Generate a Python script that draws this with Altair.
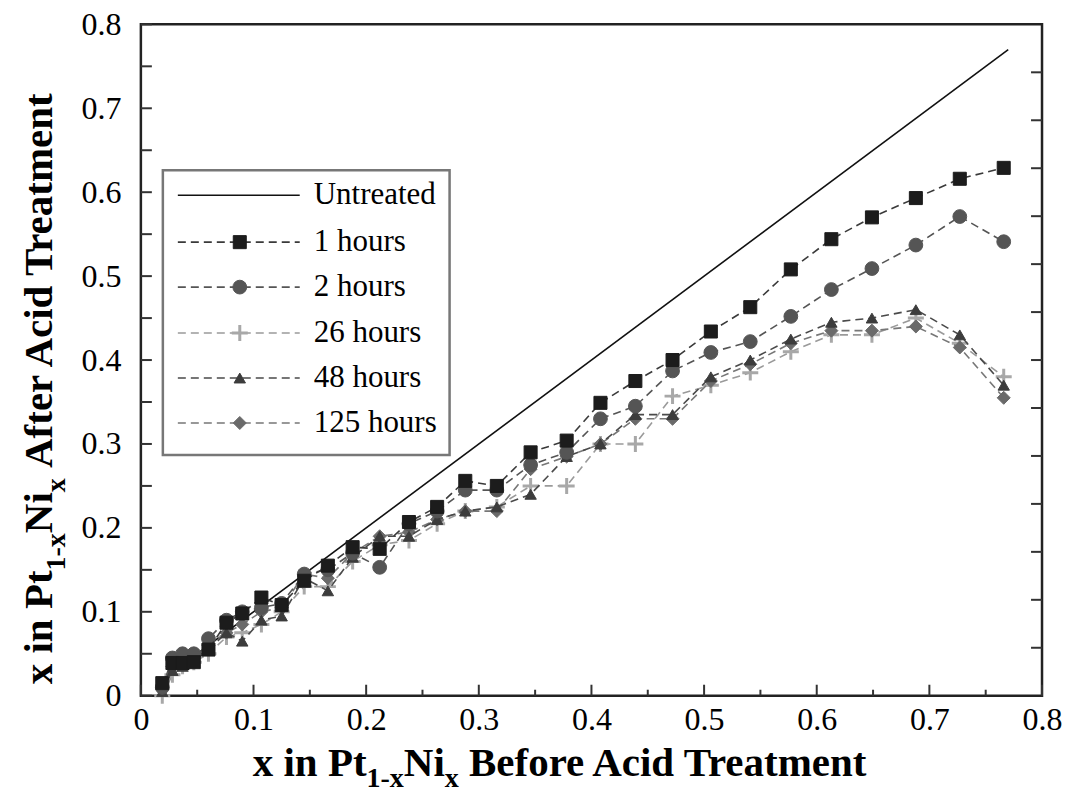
import altair as alt
import pandas as pd

# ---------------- data ----------------
x_before = [0.019, 0.028, 0.037, 0.047, 0.060, 0.076, 0.090, 0.107, 0.125, 0.145,
            0.166, 0.188, 0.212, 0.238, 0.263, 0.288, 0.316, 0.346, 0.378, 0.408,
            0.439, 0.472, 0.506, 0.541, 0.577, 0.613, 0.649, 0.688, 0.727, 0.766]

y_1h = [0.015, 0.039, 0.039, 0.040, 0.055, 0.087, 0.098, 0.117, 0.108, 0.137,
        0.155, 0.177, 0.175, 0.207, 0.225, 0.256, 0.250, 0.290, 0.304, 0.349,
        0.375, 0.400, 0.434, 0.463, 0.508, 0.544, 0.570, 0.593, 0.616, 0.629]

y_2h = [0.010, 0.045, 0.050, 0.050, 0.068, 0.090, 0.100, 0.105, 0.110, 0.145,
        0.150, 0.170, 0.153, 0.205, 0.220, 0.245, 0.245, 0.275, 0.290, 0.330,
        0.345, 0.387, 0.409, 0.422, 0.452, 0.484, 0.509, 0.537, 0.571, 0.541]

y_26h = [0.000, 0.025, 0.035, 0.040, 0.050, 0.070, 0.075, 0.085, 0.100, 0.130,
         0.130, 0.160, 0.180, 0.185, 0.205, 0.220, 0.225, 0.250, 0.250, 0.300,
         0.300, 0.357, 0.370, 0.385, 0.410, 0.430, 0.430, 0.450, 0.420, 0.380]

y_48h = [0.005, 0.030, 0.035, 0.045, 0.055, 0.075, 0.065, 0.090, 0.095, 0.140,
         0.125, 0.165, 0.190, 0.190, 0.210, 0.220, 0.225, 0.240, 0.285, 0.300,
         0.335, 0.335, 0.380, 0.400, 0.425, 0.445, 0.450, 0.460, 0.430, 0.370]

y_125h = [0.010, 0.035, 0.040, 0.045, 0.060, 0.075, 0.085, 0.100, 0.105, 0.145,
          0.140, 0.170, 0.190, 0.195, 0.210, 0.220, 0.220, 0.270, 0.285, 0.300,
          0.330, 0.330, 0.375, 0.395, 0.420, 0.435, 0.435, 0.440, 0.415, 0.355]

untreated_x = [0.017, 0.770]
untreated_y = [0.017, 0.770]

series_names = ["1 hours", "2 hours", "26 hours", "48 hours", "125 hours"]
series_values = [y_1h, y_2h, y_26h, y_48h, y_125h]

x_major = [0, 0.1, 0.2, 0.3, 0.4, 0.5, 0.6, 0.7, 0.8]
x_minor = [0.05, 0.15, 0.25, 0.35, 0.45, 0.55, 0.65, 0.75]
y_major = [0, 0.1, 0.2, 0.3, 0.4, 0.5, 0.6, 0.7, 0.8]
y_minor = [0.05, 0.15, 0.25, 0.35, 0.45, 0.55, 0.65, 0.75]
y_right = [k * 0.8 / 14 for k in range(1, 14)]

# axis titles, split into normal / subscript pieces
x_title_parts = [("x in Pt", False), ("1-x", True), ("Ni", False), ("x", True),
                 (" Before Acid Treatment", False)]
y_title_parts = [("x in Pt", False), ("1-x", True), ("Ni", False), ("x", True),
                 (" After Acid Treatment", False)]

# ---------------- styles ----------------
PLUS = "M-1,0L1,0M0,-1L0,1"
styles = {
    "1 hours":   dict(color="#1c1c1c", line="#3a3a3a", shape="square", size=170, filled=True, sw=1),
    "2 hours":   dict(color="#555555", line="#555555", shape="circle", size=190, filled=True, sw=1),
    "26 hours":  dict(color="#a8a8a8", line="#9a9a9a", shape=PLUS, size=256, filled=False, sw=3),
    "48 hours":  dict(color="#3c3c3c", line="#4a4a4a", shape="triangle-up", size=130, filled=True, sw=1),
    "125 hours": dict(color="#6a6a6a", line="#777777", shape="diamond", size=170, filled=True, sw=1),
}
draw_order = ["26 hours", "125 hours", "48 hours", "2 hours", "1 hours"]

W, H = 902, 672
FONT = "Liberation Serif"
MAIN_FS, SUB_FS = 41, 28

# Times/Liberation Serif Bold advance widths (per 1000 em) for title text
BOLD_W = {" ": 250, "x": 500, "i": 278, "n": 556, "P": 611, "t": 333, "1": 500, "-": 333,
          "N": 722, "B": 667, "e": 444, "f": 333, "o": 500, "r": 444, "A": 722, "c": 444,
          "d": 556, "T": 667, "a": 500, "m": 833}

def text_width(s, fs):
    return sum(BOLD_W.get(ch, 500) for ch in s) * fs / 1000.0

xscale = alt.Scale(domain=[0, 0.8], nice=False)
yscale = alt.Scale(domain=[0, 0.8], nice=False)

xaxis = alt.Axis(values=x_major, format="~g", ticks=False, domain=False, grid=False,
                 labelFont=FONT, labelFontSize=32, labelColor="black", labelPadding=9,
                 labelFlush=False, labelOverlap=False, title="")
yaxis = alt.Axis(values=y_major, format="~g", ticks=False, domain=False, grid=False,
                 labelFont=FONT, labelFontSize=32, labelColor="black", labelPadding=20,
                 labelFlush=False, labelOverlap=False, title="")

X = alt.X("x:Q", scale=xscale, axis=xaxis)
Y = alt.Y("y:Q", scale=yscale, axis=yaxis)

layers = []

# untreated
df_u = pd.DataFrame({"x": untreated_x, "y": untreated_y})
layers.append(alt.Chart(df_u).mark_line(color="#111111", strokeWidth=1.6).encode(x=X, y=Y))

for name in draw_order:
    st = styles[name]
    df = pd.DataFrame({"x": x_before, "y": series_values[series_names.index(name)]})
    layers.append(alt.Chart(df).mark_line(color=st["line"], strokeWidth=1.6, strokeDash=[8, 5]).encode(x=X, y=Y))
    if st["filled"]:
        pm = alt.Chart(df).mark_point(shape=st["shape"], size=st["size"], filled=True,
                                      fill=st["color"], stroke=st["color"], strokeWidth=st["sw"], opacity=1)
    else:
        pm = alt.Chart(df).mark_point(shape=st["shape"], size=st["size"], filled=False,
                                      stroke=st["color"], strokeWidth=st["sw"], opacity=1)
    layers.append(pm.encode(x=X, y=Y))

# inward ticks
tick_col = "#333333"
def vticks(vals, y0, y1, width):
    d = pd.DataFrame({"x": vals})
    return alt.Chart(d).mark_rule(color=tick_col, strokeWidth=width).encode(
        x=alt.X("x:Q", scale=xscale, axis=xaxis), y=alt.value(y0), y2=alt.value(y1))

def hticks(vals, x0, x1, width):
    d = pd.DataFrame({"y": vals})
    return alt.Chart(d).mark_rule(color=tick_col, strokeWidth=width).encode(
        y=alt.Y("y:Q", scale=yscale, axis=yaxis), x=alt.value(x0), x2=alt.value(x1))

layers.append(vticks(x_major, H, H - 11, 2))
layers.append(vticks(x_minor, H, H - 6, 2))
layers.append(hticks(y_major, 0, 11, 2))
layers.append(hticks(y_minor, 0, 11, 2))
layers.append(hticks(y_right, W, W - 11, 2))

one = pd.DataFrame({"a": [0]})

def split_lead(txt):
    stripped = txt.lstrip(" ")
    return stripped, txt[: len(txt) - len(stripped)]

# axis titles with subscripts (pixel placement relative to plot area)
PLOT_TOP = 24   # page y of plot top
PLOT_LEFT = 141  # page x of plot left
x_start = 253 - PLOT_LEFT
x_base_main = 776 - PLOT_TOP
x_base_sub = 787 - PLOT_TOP
cx = x_start
for txt, sub in x_title_parts:
    fs = SUB_FS if sub else MAIN_FS
    body, lead = split_lead(txt)
    layers.append(alt.Chart(one).mark_text(align="left", baseline="alphabetic", font=FONT,
                                           fontSize=fs, fontWeight="bold", color="black").encode(
        x=alt.value(cx + text_width(lead, fs)), y=alt.value(x_base_sub if sub else x_base_main),
        text=alt.value(body)))
    cx += text_width(txt, fs)

total_y = sum(text_width(t, SUB_FS if s else MAIN_FS) for t, s in y_title_parts)
y_center = 385 - PLOT_TOP
cy = y_center + total_y / 2
y_base_main = 52 - PLOT_LEFT
y_base_sub = 65 - PLOT_LEFT
for txt, sub in y_title_parts:
    fs = SUB_FS if sub else MAIN_FS
    body, lead = split_lead(txt)
    layers.append(alt.Chart(one).mark_text(align="left", baseline="alphabetic", font=FONT, angle=270,
                                           fontSize=fs, fontWeight="bold", color="black").encode(
        x=alt.value(y_base_sub if sub else y_base_main), y=alt.value(cy - text_width(lead, fs)),
        text=alt.value(body)))
    cy -= text_width(txt, fs)

# legend (manual)
LX0, LX1 = 22, 309
LY0, LY1 = 170 - PLOT_TOP, 455 - PLOT_TOP
layers.append(alt.Chart(one).mark_rect(fill="white", stroke="#777777", strokeWidth=2.5).encode(
    x=alt.value(LX0), x2=alt.value(LX1), y=alt.value(LY0), y2=alt.value(LY1)))
rows = [r - PLOT_TOP for r in [195, 242, 287, 333, 378, 423]]
legend_labels = ["Untreated"] + series_names
for i, lab in enumerate(legend_labels):
    ry = rows[i]
    if lab == "Untreated":
        layers.append(alt.Chart(one).mark_rule(color="#111111", strokeWidth=1.6).encode(
            x=alt.value(37), x2=alt.value(159), y=alt.value(ry)))
    else:
        st = styles[lab]
        layers.append(alt.Chart(one).mark_rule(color=st["line"], strokeWidth=1.6, strokeDash=[8, 5]).encode(
            x=alt.value(37), x2=alt.value(159), y=alt.value(ry)))
        if st["filled"]:
            pm = alt.Chart(one).mark_point(shape=st["shape"], size=st["size"], filled=True,
                                           fill=st["color"], stroke=st["color"], strokeWidth=st["sw"], opacity=1)
        else:
            pm = alt.Chart(one).mark_point(shape=st["shape"], size=st["size"], filled=False,
                                           stroke=st["color"], strokeWidth=st["sw"], opacity=1)
        layers.append(pm.encode(x=alt.value(99), y=alt.value(ry)))
    layers.append(alt.Chart(one).mark_text(align="left", baseline="middle", font=FONT, fontSize=31,
                                           color="black").encode(
        x=alt.value(173), y=alt.value(ry), text=alt.value(lab)))

chart = alt.layer(*layers).properties(
    width=W, height=H,
    autosize=alt.AutoSizeParams(type="none"),
    padding={"left": PLOT_LEFT - 8, "top": PLOT_TOP - 8, "right": 20, "bottom": 786 - (PLOT_TOP - 8) - H},
    background="white",
).configure_view(stroke="#222222", strokeWidth=2.5)

chart.save("out.html", embed_options={"renderer": "svg", "actions": False})
